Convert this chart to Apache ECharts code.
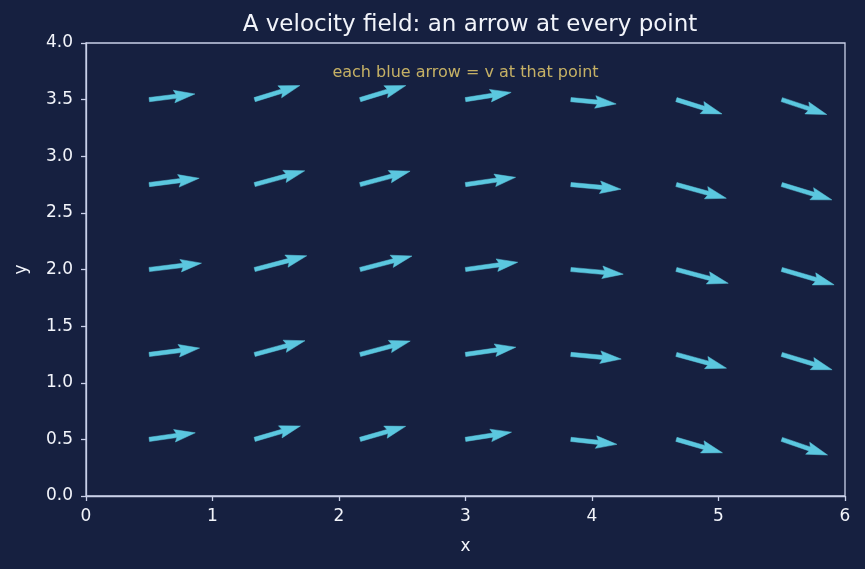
<!DOCTYPE html>
<html>
<head>
<meta charset="utf-8">
<title>velocity field</title>
<script src="https://cdn.jsdelivr.net/npm/echarts@6/dist/echarts.min.js"></script>
<style>
  html, body { margin: 0; padding: 0; background: #162040; }
  #chart { width: 865px; height: 569px; }
</style>
</head>
<body>
<div id="chart"></div>
<script>
// grid points where the arrows start
const xs = [0.5, 1.333, 2.167, 3.0, 3.833, 4.667, 5.5]
const ys = [0.5, 1.25, 2.0, 2.75, 3.5]

// arrow components in data units, one row per y value
const U = [
  [0.364, 0.362, 0.360, 0.364, 0.364, 0.364, 0.362],
  [0.398, 0.398, 0.396, 0.398, 0.398, 0.396, 0.398],
  [0.413, 0.412, 0.410, 0.413, 0.414, 0.410, 0.414],
  [0.395, 0.396, 0.395, 0.396, 0.396, 0.395, 0.396],
  [0.361, 0.357, 0.361, 0.361, 0.358, 0.361, 0.356]
]
const V = [
  [0.058, 0.118, 0.115, 0.064, -0.044, -0.118, -0.138],
  [0.056, 0.121, 0.118, 0.064, -0.041, -0.121, -0.135],
  [0.056, 0.121, 0.119, 0.064, -0.041, -0.122, -0.135],
  [0.056, 0.121, 0.118, 0.064, -0.041, -0.121, -0.135],
  [0.050, 0.124, 0.124, 0.064, -0.038, -0.126, -0.132]
]

const arrows = []
ys.forEach((y, i) => {
  xs.forEach((x, j) => {
    arrows.push([x, y, U[i][j], V[i][j]])
  })
})

const axisColor = '#c9d0e8'
const textColor = '#f2f4fa'

// quiver-like arrow: shaft width w, head 3w wide, 5w long
const renderArrow = (params, api) => {
  const x = api.value(0)
  const y = api.value(1)
  const tail = api.coord([x, y])
  const tip = api.coord([x + api.value(2), y + api.value(3)])
  const dx = tip[0] - tail[0]
  const dy = tip[1] - tail[1]
  const L = Math.sqrt(dx * dx + dy * dy)
  const c = dx / L
  const s = dy / L
  const w = 4.2
  const hl = 5 * w
  const hal = 4.5 * w
  const hw = 1.5 * w
  const local = [
    [0, -w / 2],
    [L - hal, -w / 2],
    [L - hl, -hw],
    [L, 0],
    [L - hl, hw],
    [L - hal, w / 2],
    [0, w / 2]
  ]
  const points = local.map((p) => [
    tail[0] + p[0] * c - p[1] * s,
    tail[1] + p[0] * s + p[1] * c
  ])
  return {
    type: 'polygon',
    shape: { points: points },
    style: { fill: '#5bc7df', stroke: '#5bc7df', lineWidth: 0.5 }
  }
}

const chart = echarts.init(document.getElementById('chart'))
chart.setOption({
  backgroundColor: '#162040',
  animation: false,
  textStyle: { fontFamily: 'DejaVu Sans' },
  title: {
    text: 'A velocity field: an arrow at every point',
    left: 465,
    top: 9,
    textAlign: 'center',
    textStyle: { color: textColor, fontSize: 23, fontWeight: 'normal', fontFamily: 'DejaVu Sans' }
  },
  grid: {
    left: 86,
    right: 20,
    top: 43,
    bottom: 73,
    show: true,
    borderColor: axisColor,
    borderWidth: 1.3,
    backgroundColor: 'transparent'
  },
  xAxis: {
    type: 'value',
    min: 0,
    max: 6,
    interval: 1,
    name: 'x',
    nameLocation: 'middle',
    nameGap: 42,
    nameTextStyle: { color: textColor, fontSize: 17 },
    axisLine: { show: true, lineStyle: { color: axisColor, width: 1.3 } },
    axisTick: { show: true, length: 5, lineStyle: { color: axisColor, width: 1.3 } },
    axisLabel: { color: textColor, fontSize: 17, margin: 12, formatter: (v) => String(v) },
    splitLine: { show: false }
  },
  yAxis: {
    type: 'value',
    min: 0,
    max: 4,
    interval: 0.5,
    name: 'y',
    nameLocation: 'middle',
    nameGap: 56,
    nameTextStyle: { color: textColor, fontSize: 17 },
    axisLine: { show: true, lineStyle: { color: axisColor, width: 1.3 } },
    axisTick: { show: true, length: 5, lineStyle: { color: axisColor, width: 1.3 } },
    axisLabel: { color: textColor, fontSize: 17, margin: 13, formatter: (v) => v.toFixed(1) },
    splitLine: { show: false }
  },
  series: [
    {
      type: 'custom',
      renderItem: renderArrow,
      data: arrows,
      clip: false
    },
    {
      type: 'scatter',
      symbolSize: 0,
      silent: true,
      data: [[3, 3.74]],
      label: {
        show: true,
        position: 'inside',
        formatter: 'each blue arrow = v at that point',
        color: '#f1d56e',
        fontSize: 16,
        fontFamily: 'DejaVu Sans'
      }
    }
  ]
})
</script>
</body>
</html>
